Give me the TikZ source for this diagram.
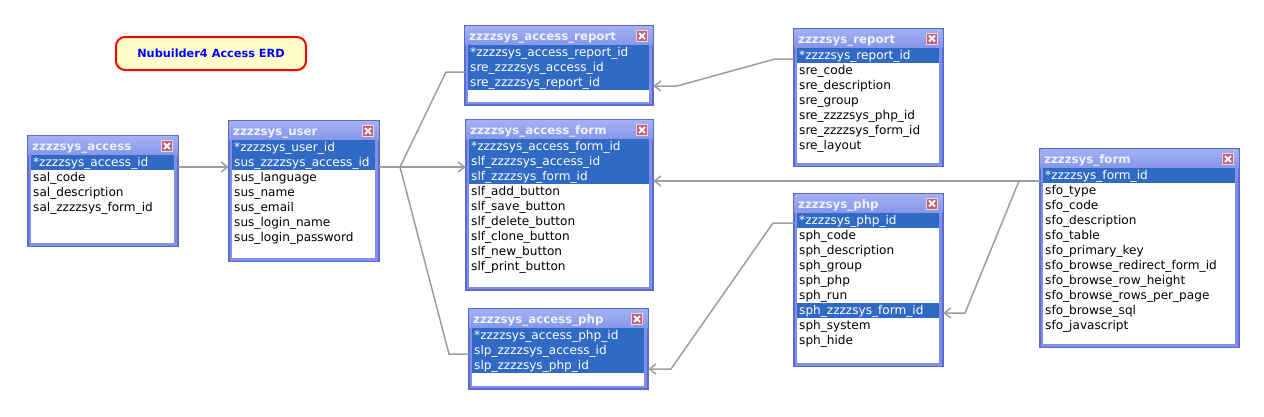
\documentclass[tikz,border=0pt]{standalone}
\usepackage{fontspec}
\setmainfont{DejaVu Sans}
\usetikzlibrary{arrows.meta,fit,shadings}
\definecolor{winfill}{HTML}{7F90E6}
\definecolor{winedge}{HTML}{5A6CD2}
\definecolor{bartop}{HTML}{A3B0F4}
\definecolor{barbot}{HTML}{8596E8}
\definecolor{titletxt}{HTML}{EEF2FF}
\definecolor{selbg}{HTML}{316AC5}
\definecolor{connc}{HTML}{9E9E9E}
\definecolor{btnfill}{HTML}{C2607A}
\definecolor{btnedge}{HTML}{F2D4DC}
\definecolor{notefill}{HTML}{FFFFCC}
\tikzset{
 winframe/.style={fill=winfill, draw=winedge, line width=1.2pt},
 listbox/.style={fill=white},
 wintitle/.style={font=\bfseries\fontsize{11.8}{13}\selectfont, text=titletxt, inner sep=0pt, anchor=base west},
 rowtxt/.style={font=\fontsize{12.1}{14}\selectfont, text=black, inner sep=0pt, anchor=base west},
 seltxt/.style={rowtxt, text=white},
 selband/.style={fill=selbg},
 closebtn/.style={draw=btnedge, fill=btnfill, line width=0.8pt, minimum width=11pt, minimum height=11pt, inner sep=0pt,
   path picture={\draw[white, line width=1.8pt]
     ([shift={(-3pt,-3pt)}]path picture bounding box.center) -- ([shift={(3pt,3pt)}]path picture bounding box.center)
     ([shift={(-3pt,3pt)}]path picture bounding box.center) -- ([shift={(3pt,-3pt)}]path picture bounding box.center);}},
 conn/.style={draw=connc, line width=1.5pt},
 fk/.style={-{Straight Barb[length=6.5pt,width=10pt]}},
 notebox/.style={draw=red, line width=2pt, fill=notefill, rounded corners=9pt, minimum width=190pt, minimum height=33pt,
   text=blue, font=\bfseries\fontsize{11.3}{13}\selectfont}
}
\newcommand\erdtab[7]{%
 \filldraw[winframe] (#2,#3) rectangle (#4,#5);
 \shade[top color=bartop, bottom color=barbot] (#2+0.6,#3+0.6) rectangle (#4-0.6,#3+19);
 \fill[listbox] (#2+3,#3+19) rectangle (#4-4,#5-3.5);
 \node[wintitle] (#1-title) at (#2+4,#3+14.5) {#6};
 \node[closebtn] (#1-close) at (#4-11,#3+10) {};
 \foreach \hl/\txt [count=\k from 0] in {#7}{%
   \ifnum\hl=1\relax
     \fill[selband] (#2+3,#3+19+15*\k) rectangle (#4-4,#3+34+15*\k);
     \node[seltxt] (#1-r\k) at (#2+5,#3+30.8+15*\k) {\txt};
   \else
     \node[rowtxt] (#1-r\k) at (#2+5,#3+30.8+15*\k) {\txt};
   \fi}%
 \node[fit={(#2,#3) (#4,#5)}, inner sep=0pt] (#1) {};
}
\begin{document}
\begin{tikzpicture}[x=1pt,y=-1pt]
\useasboundingbox (0,0) rectangle (1264,416);
\fill[white] (0,0) rectangle (1264,416);

\node[notebox] (note) at (211,53.5) {Nubuilder4 Access ERD};

\erdtab{acc}{28}{136}{178}{246.5}{zzzzsys\_access}{1/*zzzzsys\_access\_id, 0/sal\_code, 0/sal\_description, 0/sal\_zzzzsys\_form\_id}
\erdtab{usr}{229}{121}{379}{261.5}{zzzzsys\_user}{1/*zzzzsys\_user\_id, 1/sus\_zzzzsys\_access\_id, 0/sus\_language, 0/sus\_name, 0/sus\_email, 0/sus\_login\_name, 0/sus\_login\_password}
\erdtab{arep}{465}{26}{653}{105}{zzzzsys\_access\_report}{1/*zzzzsys\_access\_report\_id, 1/sre\_zzzzsys\_access\_id, 1/sre\_zzzzsys\_report\_id}
\erdtab{afrm}{466}{120}{653}{290}{zzzzsys\_access\_form}{1/*zzzzsys\_access\_form\_id, 1/slf\_zzzzsys\_access\_id, 1/slf\_zzzzsys\_form\_id, 0/slf\_add\_button, 0/slf\_save\_button, 0/slf\_delete\_button, 0/slf\_clone\_button, 0/slf\_new\_button, 0/slf\_print\_button}
\erdtab{aphp}{469}{309}{648}{389}{zzzzsys\_access\_php}{1/*zzzzsys\_access\_php\_id, 1/slp\_zzzzsys\_access\_id, 1/slp\_zzzzsys\_php\_id}
\erdtab{rep}{794}{28.5}{943}{166.5}{zzzzsys\_report}{1/*zzzzsys\_report\_id, 0/sre\_code, 0/sre\_description, 0/sre\_group, 0/sre\_zzzzsys\_php\_id, 0/sre\_zzzzsys\_form\_id, 0/sre\_layout}
\erdtab{php}{794}{193.5}{943}{366.5}{zzzzsys\_php}{1/*zzzzsys\_php\_id, 0/sph\_code, 0/sph\_description, 0/sph\_group, 0/sph\_php, 0/sph\_run, 1/sph\_zzzzsys\_form\_id, 0/sph\_system, 0/sph\_hide}
\erdtab{frm}{1040}{149}{1239}{347.5}{zzzzsys\_form}{1/*zzzzsys\_form\_id, 0/sfo\_type, 0/sfo\_code, 0/sfo\_description, 0/sfo\_table, 0/sfo\_primary\_key, 0/sfo\_browse\_redirect\_form\_id, 0/sfo\_browse\_row\_height, 0/sfo\_browse\_rows\_per\_page, 0/sfo\_browse\_sql, 0/sfo\_javascript}

\coordinate (j1) at (400,167);
\coordinate (j2) at (1019,181);

\draw[conn,fk] (acc.east |- 0,167) -- (usr.west |- 0,167);
\draw[conn] (usr.east |- 0,167) -- (j1);
\draw[conn] (j1) -- (446,72) -- (arep.west |- 0,72);
\draw[conn,fk] (j1) -- (447,167) -- (afrm.west |- 0,167);
\draw[conn] (j1) -- (449,354) -- (aphp.west |- 0,354);
\draw[conn,fk] (rep.west |- 0,59) -- (775,59) -- (677,86) -- (arep.east |- 0,86);
\draw[conn] (frm.west |- 0,181) -- (j2);
\draw[conn,fk] (j2) -- (afrm.east |- 0,181);
\draw[conn,fk] (j2) -- (965,313) -- (php.east |- 0,313);
\draw[conn,fk] (php.west |- 0,223) -- (773,223) -- (671,369) -- (aphp.east |- 0,369);
\end{tikzpicture}
\end{document}
